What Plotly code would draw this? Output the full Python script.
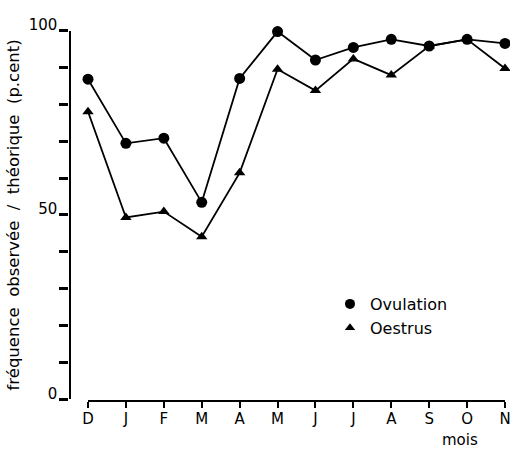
import plotly.graph_objects as go

months = ["D", "J", "F", "M", "A", "M", "J", "J", "A", "S", "O", "N"]
ovulation = [86.8, 69.4, 70.8, 53.4, 87.0, 99.7, 92.0, 95.4, 97.6, 95.8, 97.6, 96.5]
oestrus = [78.0, 49.3, 50.9, 44.1, 61.4, 89.5, 83.7, 92.3, 87.9, 95.8, 97.6, 89.7]
y_tickvals = [0, 10, 20, 30, 40, 50, 60, 70, 80, 90, 100]
y_ticktext = ["0", "", "", "", "", "50", "", "", "", "", "100"]

FONT = "DejaVu Sans"
x_idx = list(range(len(months)))

fig = go.Figure()
fig.add_trace(go.Scatter(
    x=x_idx, y=oestrus, mode="lines+markers", showlegend=False,
    line=dict(color="black", width=1.8),
    marker=dict(symbol="triangle-up", size=10, color="black"),
    cliponaxis=False,
))
fig.add_trace(go.Scatter(
    x=x_idx, y=ovulation, mode="lines+markers", showlegend=False,
    line=dict(color="black", width=1.8),
    marker=dict(symbol="circle", size=11, color="black"),
    cliponaxis=False,
))
# legend-only traces
fig.add_trace(go.Scatter(
    x=[None], y=[None], mode="markers", name="Ovulation",
    marker=dict(symbol="circle", size=10, color="black"),
))
fig.add_trace(go.Scatter(
    x=[None], y=[None], mode="markers", name="Oestrus",
    marker=dict(symbol="triangle-up", size=9, color="black"),
))

W, H = 510, 452
ml, mr, mt, mb = 60, 5, 30, 51
pw = W - ml - mr
ph = H - mt - mb

x_left_px = 88
y_axis_px = 69.5
y0_px = 399.3
y100_px = 30.5

fig.update_layout(
    width=W, height=H,
    margin=dict(l=ml, r=mr, t=mt, b=mb, autoexpand=False),
    paper_bgcolor="white", plot_bgcolor="white",
    font=dict(family=FONT, color="black", size=15),
    showlegend=True,
    legend=dict(
        x=(330 - ml) / pw, y=(H - mb - 287) / ph, xanchor="left", yanchor="top",
        font=dict(size=16, family=FONT), bgcolor="rgba(0,0,0,0)",
        itemwidth=30, tracegroupgap=6,
    ),
    xaxis=dict(
        domain=[(x_left_px - ml) / pw, 1],
        range=[0, len(months) - 1],
        tickmode="array", tickvals=x_idx, ticktext=months,
        showline=True, linecolor="black", linewidth=2.2,
        ticks="outside", ticklen=6, tickwidth=2, tickcolor="black",
        showgrid=False, zeroline=False, automargin=False,
        tickfont=dict(size=15, family=FONT),
        ticklabeloverflow="allow", ticklabelstandoff=-2,
        anchor="free", position=0,
    ),
    yaxis=dict(
        domain=[(H - mb - y0_px) / ph, (H - mb - y100_px) / ph],
        range=[0, 100],
        tickmode="array", tickvals=y_tickvals, ticktext=y_ticktext,
        showline=True, linecolor="black", linewidth=2.2,
        ticks="outside", ticklen=9, tickwidth=2.8, tickcolor="black",
        showgrid=False, zeroline=False, automargin=False,
        tickfont=dict(size=15, family=FONT),
        ticklabelshift=-6, ticklabelstandoff=-1,
        ticklabeloverflow="allow",
        anchor="free", position=(y_axis_px - ml) / pw,
        title=dict(text="fréquence  observée  /  théorique  (p.cent)",
                   font=dict(size=16.5, family=FONT), standoff=4),
    ),
    annotations=[
        dict(text="mois", xref="x", yref="paper", x=9.8, y=0,
             yshift=-39, showarrow=False, xanchor="center", yanchor="middle",
             font=dict(size=15, family=FONT)),
    ],
)

fig.write_html("out.html", config={"displayModeBar": False},
               post_script="document.body.style.margin='0';")
